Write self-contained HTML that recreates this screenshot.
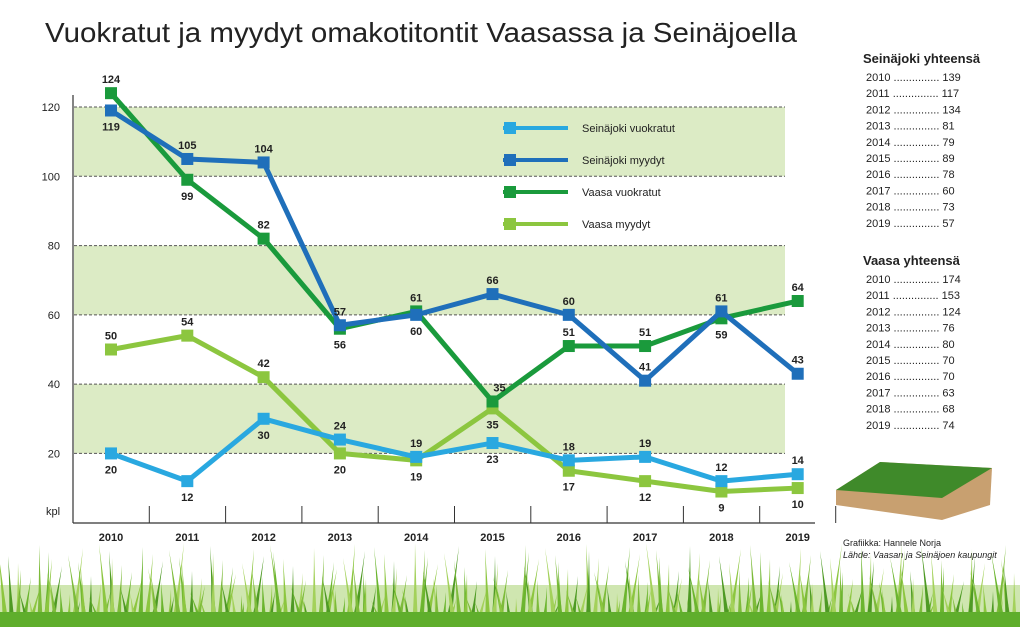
<!DOCTYPE html>
<html><head><meta charset="utf-8">
<style>
body{margin:0;width:1020px;height:627px;overflow:hidden;background:#fff;font-family:"Liberation Sans",sans-serif;}
svg{position:absolute;left:0;top:0}
</style></head>
<body>
<svg id="chart" width="1020" height="627" viewBox="0 0 1020 627">
<text x="45" y="42" font-size="28" fill="#222" textLength="752" lengthAdjust="spacingAndGlyphs">Vuokratut ja myydyt omakotitontit Vaasassa ja Seinäjoella</text>
<g id="bands"></g><g id="grid"></g><g id="axes"></g><g id="series"></g><g id="labels"></g><g id="legend"></g><g id="side"></g><g id="grass"></g>
</svg>
<script>
const years=[2010,2011,2012,2013,2014,2015,2016,2017,2018,2019];
const yTicks=[20,40,60,80,100,120];
const seinaVuok=[20,12,30,24,19,23,18,19,12,14];
const seinaMyyd=[119,105,104,57,60,66,60,41,61,43];
const vaasaVuok=[124,99,82,56,61,35,51,51,59,64];
const vaasaMyyd=[50,54,42,20,18,33,15,12,9,10];
const vaasaVuokLbl=[124,99,82,56,61,35,51,51,59,64];
const vaasaMyydLbl=[50,54,42,20,19,35,17,12,9,10];
const seinaTot=[139,117,134,81,79,89,78,60,73,57];
const vaasaTot=[174,153,124,76,80,70,70,63,68,74];
const NS="http://www.w3.org/2000/svg";
const X=i=>111+i*76.3, Y=v=>522.7-3.464*v;
function mk(tag,attrs,parent,txt){const e=document.createElementNS(NS,tag);for(const k in attrs)e.setAttribute(k,attrs[k]);if(txt!==undefined)e.textContent=txt;document.getElementById(parent).appendChild(e);return e;}
[[100,120],[60,80],[20,40]].forEach(b=>{const r=mk('rect',{x:74,y:Y(b[1]),width:711,height:Y(b[0])-Y(b[1]),fill:'#dcebc5'},'bands');

});
yTicks.forEach(t=>{const l=mk('line',{x1:74,x2:785,y1:Y(t),y2:Y(t),stroke:'#555','stroke-dasharray':'3,2','stroke-width':1},'grid');


const tx=mk('text',{x:60,y:Y(t)+4,'font-size':11,'text-anchor':'end',fill:'#222'},'axes',t);

});
mk('line',{x1:73,x2:73,y1:95,y2:523,stroke:'#333','stroke-width':1.2},'axes');
mk('line',{x1:73,x2:815,y1:523,y2:523,stroke:'#333','stroke-width':1.2},'axes');
const kp=mk('text',{x:46,y:515,'font-size':11,fill:'#222'},'axes','kpl');


years.forEach((y,i)=>{if(i>0){mk('line',{x1:X(i)-38,x2:X(i)-38,y1:506,y2:523,stroke:'#333'},'axes');}
const t=mk('text',{x:X(i),y:541,'font-size':11,'font-weight':'bold','text-anchor':'middle',fill:'#222'},'axes',y);

});
mk('line',{x1:X(9)+38,x2:X(9)+38,y1:506,y2:523,stroke:'#333'},'axes');
const series=[
 {d:vaasaMyyd,lbl:vaasaMyydLbl,c:'#8cc63f',n:'vaasa-myydyt',pos:[-1,-1,-1,1,1,1,1,1,1,1]},
 {d:seinaVuok,lbl:seinaVuok,c:'#29a8e0',n:'seinajoki-vuokratut',pos:[1,1,1,-1,-1,1,-1,-1,-1,-1]},
 {d:vaasaVuok,lbl:vaasaVuokLbl,c:'#1a9a3c',n:'vaasa-vuokratut',pos:[-1,1,-1,1,-1,-1,-1,-1,1,-1]},
 {d:seinaMyyd,lbl:seinaMyyd,c:'#1f6fba',n:'seinajoki-myydyt',pos:[1,-1,-1,-1,1,-1,-1,-1,-1,-1]}];
series.forEach(s=>{const p=mk('polyline',{points:s.d.map((v,i)=>X(i)+','+Y(v)).join(' '),fill:'none',stroke:s.c,'stroke-width':5,'stroke-linejoin':'round'},'series');


s.d.forEach((v,i)=>{const r=mk('rect',{x:X(i)-6,y:Y(v)-6,width:12,height:12,fill:s.c},'series');


const t=mk('text',{x:X(i)+(s.n==='vaasa-vuokratut'&&i===5?7:0),y:Y(v)+(s.pos[i]<0?-10:20),'font-size':11,'font-weight':'bold','text-anchor':'middle',fill:'#222'},'labels',s.lbl[i]);

});});
const leg=[['Seinäjoki vuokratut','#29a8e0'],['Seinäjoki myydyt','#1f6fba'],['Vaasa vuokratut','#1a9a3c'],['Vaasa myydyt','#8cc63f']];
leg.forEach((l,i)=>{const y=128+i*32;mk('line',{x1:503,x2:568,y1:y,y2:y,stroke:l[1],'stroke-width':4},'legend');
mk('rect',{x:504,y:y-6,width:12,height:12,fill:l[1]},'legend');
const t=mk('text',{x:582,y:y+4,'font-size':11,fill:'#222'},'legend',l[0]);

});
function side(title,arr,y0){const t=mk('text',{x:863,y:y0,'font-size':13,'font-weight':'bold',fill:'#222'},'side',title);


arr.forEach((v,i)=>{const r=mk('text',{x:866,y:y0+18+i*16.2,'font-size':11,fill:'#222'},'side',years[i]+' ............... '+v);

});}
side('Seinäjoki yhteensä',seinaTot,63);side('Vaasa yhteensä',vaasaTot,265);
mk('text',{x:843,y:546,'font-size':9,fill:'#222'},'side','Grafiikka: Hannele Norja');
mk('text',{x:843,y:558,'font-size':9,'font-style':'italic',fill:'#222'},'side','Lähde: Vaasan ja Seinäjoen kaupungit');
mk('polygon',{points:'836,490 880,462 992,468 990,505 942,520 836,505',fill:'#c8a070'},'side');
mk('polygon',{points:'836,490 880,462 992,468 942,498',fill:'#3f8a2a'},'side');
// decorative grass
mk('rect',{x:0,y:585,width:1020,height:42,fill:'#cfe6b0'},'grass');
for(let i=0;i<260;i++){const x=i*4+(i*37%7);const h=25+(i*53%60);const lean=((i*29)%25)-12;
mk('path',{d:`M${x-3},627 Q${x+lean/2},${627-h/2} ${x+lean},${627-h} Q${x+lean/2+1},${627-h/2} ${x+3},627Z`,fill:['#6bb52e','#8cc63f','#4e9a24','#a3d15a','#7dbb3a'][i%5]},'grass');}
mk('rect',{x:0,y:612,width:1020,height:15,fill:'#5fae2c'},'grass');
</script>
</body></html>
